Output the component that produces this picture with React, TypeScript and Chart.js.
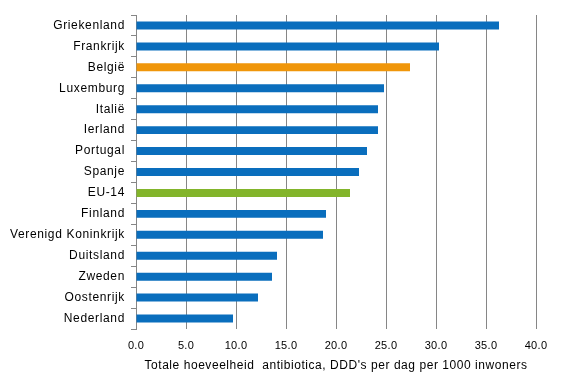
import React, { useEffect, useRef } from "react";
import { Chart, registerables } from "chart.js";

Chart.register(...registerables);

const categories = [
  "Griekenland",
  "Frankrijk",
  "België",
  "Luxemburg",
  "Italië",
  "Ierland",
  "Portugal",
  "Spanje",
  "EU-14",
  "Finland",
  "Verenigd Koninkrijk",
  "Duitsland",
  "Zweden",
  "Oostenrijk",
  "Nederland",
];

const values = [36.3, 30.3, 27.4, 24.8, 24.2, 24.2, 23.1, 22.3, 21.4, 19.0, 18.7, 14.1, 13.6, 12.2, 9.7];

const BLUE = "#0A6EBD";
const ORANGE = "#F0960A";
const GREEN = "#83B52B";
const barColors = categories.map((c) => (c === "België" ? ORANGE : c === "EU-14" ? GREEN : BLUE));

const xMin = 0;
const xMax = 40;
const xStep = 5;
const xTitle = "Totale hoeveelheid  antibiotica, DDD's per dag per 1000 inwoners";

const spacingPlugin = {
  id: "letterSpacing",
  beforeDraw(chart: any) {
    const wrap = (scale: any, name: string, spacing: string) => {
      if (!scale || scale["_ls_" + name]) return;
      const orig = scale[name].bind(scale);
      scale[name] = (...args: any[]) => {
        const c = chart.ctx as any;
        const prev = c.letterSpacing;
        c.letterSpacing = spacing;
        orig(...args);
        c.letterSpacing = prev || "0px";
      };
      scale["_ls_" + name] = true;
    };
    wrap(chart.scales.y, "drawLabels", "0.65px");
    wrap(chart.scales.x, "drawTitle", "0.55px");
    wrap(chart.scales.x, "drawLabels", "0.3px");
  },
};

export default function App() {
  const ref = useRef<HTMLCanvasElement | null>(null);

  useEffect(() => {
    document.body.style.margin = "0";
    const ctx = ref.current;
    if (!ctx) return;
    const family = "'Liberation Sans', Arial, sans-serif";
    const font = { family, size: 12 };
    const chart = new Chart(ctx, {
      type: "bar",
      data: {
        labels: categories,
        datasets: [
          {
            data: values,
            backgroundColor: barColors,
            borderWidth: 0,
            categoryPercentage: 1,
            barPercentage: 0.38,
          },
        ],
      },
      options: {
        indexAxis: "y",
        animation: false,
        responsive: false,
        maintainAspectRatio: false,
        layout: { padding: { top: 15, right: 30, left: 0, bottom: 0 } },
        plugins: { legend: { display: false }, tooltip: { enabled: false } },
        scales: {
          x: {
            min: xMin,
            max: xMax,
            ticks: {
              stepSize: xStep,
              color: "#000",
              font: { family, size: 11 },
              padding: 10,
              callback: (v: any) => Number(v).toFixed(1),
            },
            grid: { color: "#868686", lineWidth: 1, drawTicks: false },
            border: { display: false },
            title: {
              display: true,
              text: xTitle,
              color: "#000",
              font,
              padding: { top: 0, bottom: 15 },
            },
            afterFit: (s: any) => {
              s.height = 59;
            },
          },
          y: {
            ticks: { color: "#000", font, padding: 6, autoSkip: false },
            grid: {
              offset: true,
              drawOnChartArea: false,
              drawTicks: true,
              tickLength: 5,
              color: "#868686",
            },
            border: { display: true, color: "#868686" },
            afterFit: (s: any) => {
              s.width = 136;
            },
          },
        },
      },
      plugins: [spacingPlugin],
    });
    return () => chart.destroy();
  }, []);

  return (
    <div style={{ position: "absolute", left: 0, top: 0, width: 566, height: 388, background: "#fff" }}>
      <canvas ref={ref} width={566} height={388} />
    </div>
  );
}
